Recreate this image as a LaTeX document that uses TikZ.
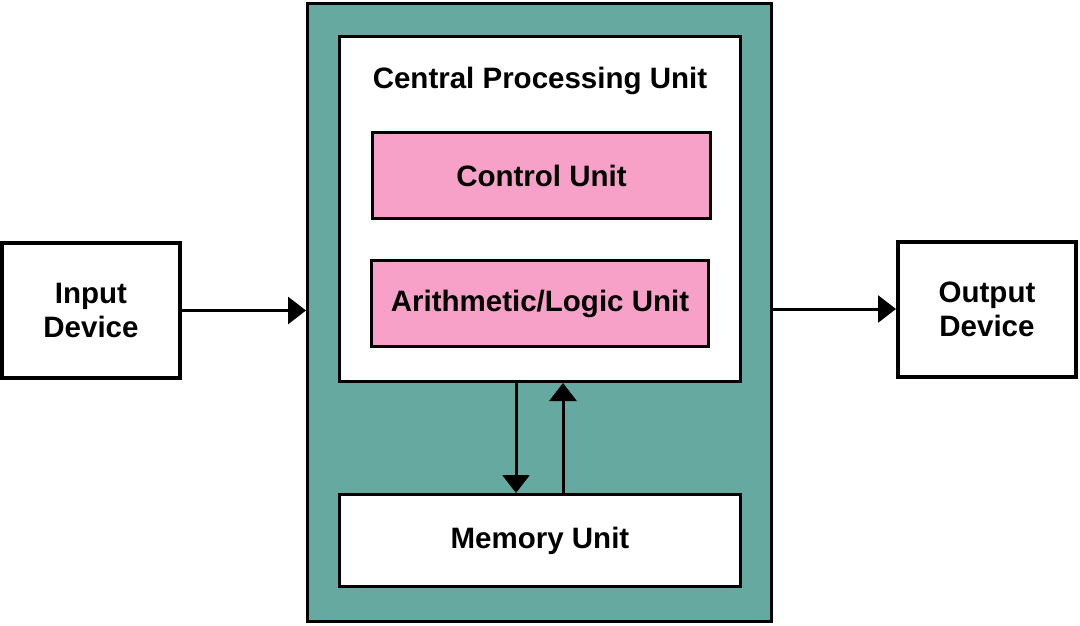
\documentclass[tikz,border=0pt]{standalone}
\usepackage{fontspec}
\setmainfont{Liberation Sans}
\usetikzlibrary{arrows.meta,positioning}
\definecolor{cputeal}{HTML}{66A9A0}
\definecolor{unitpink}{HTML}{F7A1C8}

\begin{document}
\begin{tikzpicture}[x=1pt, y=-1pt,
    font=\fontsize{29.5}{34}\selectfont\bfseries,
    unitbox/.style={draw, line width=3pt, inner sep=0pt, align=center},
    devbox/.style={unitbox, line width=4pt, minimum width=178pt, minimum height=135pt},
    flow/.style={line width=3pt, -{Triangle[length=18pt, width=27pt]}}]
    \useasboundingbox (0, 0) rectangle (1080, 625);
    % boxes
    \node[devbox] (input) at (91, 310.5) {Input\\Device};
    \node[devbox] (output) at (987, 309) {Output\\Device};
    \node[unitbox, fill=cputeal, minimum width=464pt, minimum height=618pt] (outer) at (539.5, 312.5) {};
    \node[unitbox, fill=white, minimum width=401pt, minimum height=345pt] (cpu) at (540, 209) {};
    \node (title) at (540, 81) {Central Processing Unit};
    \node[unitbox, fill=unitpink, minimum width=338pt, minimum height=86pt] (control) at (541.5, 175.5) {Control Unit};
    \node[unitbox, fill=unitpink, minimum width=337pt, minimum height=86pt] (alu) at (540, 303.5) {Arithmetic/Logic Unit};
    \node[unitbox, fill=white, minimum width=401pt, minimum height=92pt] (memory) at (540, 540.5) {Memory Unit};
    % arrows
    \draw[flow] (input.east) -- (input.east -| outer.west);
    \draw[flow] (output.west -| outer.east) -- (output.west);
    \draw[flow] ([xshift=-24pt]cpu.south) -- ([xshift=-24pt]memory.north);
    \draw[flow] ([xshift=23pt]memory.north) -- ([xshift=23pt]cpu.south);
\end{tikzpicture}
\end{document}
